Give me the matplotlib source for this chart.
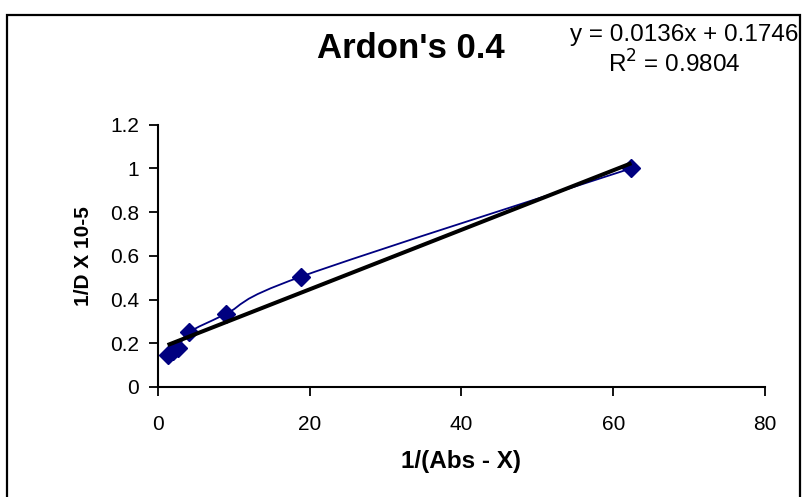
import numpy as np
import matplotlib
matplotlib.use("Agg")
import matplotlib.pyplot as plt
from matplotlib.path import Path
from matplotlib.patches import PathPatch, Rectangle

plt.rcParams['font.family'] = ['Liberation Sans', 'DejaVu Sans']

# measured points
inv_abs = [1.26, 2.0, 2.7, 4.1, 9.0, 18.9, 62.4]
inv_d = [0.148, 0.163, 0.18, 0.25, 0.335, 0.505, 1.0]

# linear trendline reported on the chart
slope = 0.0136
intercept = 0.1746
r_squared = 0.9804

x_ticks = [0, 20, 40, 60, 80]
y_ticks = [0, 0.2, 0.4, 0.6, 0.8, 1.0, 1.2]
y_tick_labels = ['0', '0.2', '0.4', '0.6', '0.8', '1', '1.2']

title = "Ardon's 0.4"
x_label = "1/(Abs - X)"
y_label = "1/D X 10-5"

NAVY = '#000080'

fig = plt.figure(figsize=(8.06, 4.97), dpi=100)
ax = fig.add_axes([158 / 806, 1 - 387 / 497, (765 - 158) / 806, (387 - 124.5) / 497])
ax.set_xlim(0, 80)
ax.set_ylim(0, 1.2)

# smoothed connecting line (cubic Bezier segments, Catmull-Rom style)
fig.canvas.draw()
pts = ax.transData.transform(np.column_stack([inv_abs, inv_d]))
verts = [pts[0]]
codes = [Path.MOVETO]
n = len(pts)
for i in range(n - 1):
    p0 = pts[i - 1] if i > 0 else pts[i]
    p1 = pts[i]
    p2 = pts[i + 1]
    p3 = pts[i + 2] if i + 2 < n else pts[i + 1]
    c1 = p1 + (p2 - p0) / 6.0
    c2 = p2 - (p3 - p1) / 6.0
    verts += [c1, c2, p2]
    codes += [Path.CURVE4] * 3
verts = ax.transData.inverted().transform(np.array(verts))
ax.add_patch(PathPatch(Path(verts, codes), facecolor='none', edgecolor=NAVY,
                       lw=1.3, zorder=2))

ax.plot(inv_abs, inv_d, linestyle='none', marker='D', markersize=9,
        color=NAVY, zorder=3)

# trendline
xt = np.array([min(inv_abs), max(inv_abs)])
ax.plot(xt, slope * xt + intercept, color='black', lw=2.9, zorder=4,
        solid_capstyle='butt')

for s in ['top', 'right']:
    ax.spines[s].set_visible(False)
for s in ['left', 'bottom']:
    ax.spines[s].set_linewidth(1.5)
ax.set_xticks(x_ticks)
ax.set_yticks(y_ticks)
ax.set_yticklabels(y_tick_labels)
ax.tick_params(direction='out', length=6.5, width=1.3, labelsize=15, colors='black')
ax.tick_params(axis='x', pad=14)
ax.tick_params(axis='y', pad=7)

ax.set_xlabel(x_label, fontsize=17.5, fontweight='bold', labelpad=11)
ax.set_ylabel(y_label, fontsize=15, fontweight='bold', labelpad=12)

fig.text(411 / 806, 1 - 48 / 497, title, ha='center', va='center',
         fontsize=25, fontweight='bold')
fig.text(684 / 806, 1 - 35 / 497, f"y = {slope}x + {intercept}", ha='center',
         va='center', fontsize=17.5)
fig.text(674 / 806, 1 - 64 / 497, f"R$^2$ = {r_squared}", ha='center',
         va='center', fontsize=17.5)

# outer chart border
fig.patches.append(Rectangle((7 / 806, -0.02), (800 - 7) / 806, 0.02 + 1 - 15 / 497,
                             transform=fig.transFigure, fill=False,
                             edgecolor='black', lw=1.6))

fig.savefig('out.png', dpi=100)
